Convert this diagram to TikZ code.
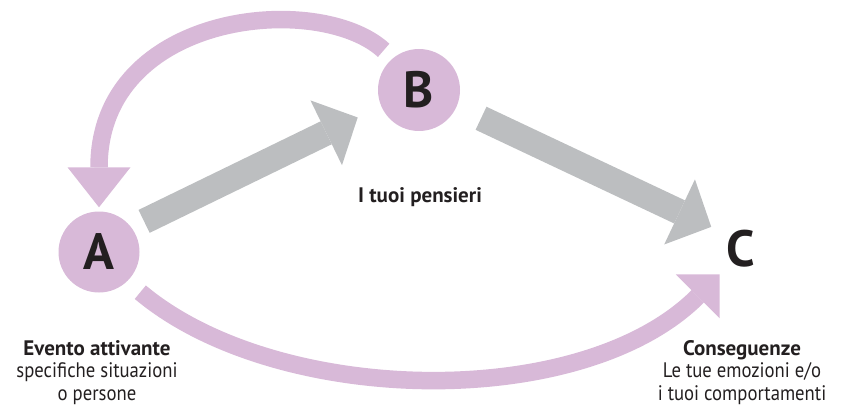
\documentclass[tikz,border=0pt]{standalone}
\usepackage{fontspec}
\setmainfont{PT Sans}[UprightFeatures={FakeStretch=0.89}]
\usetikzlibrary{arrows.meta}

\definecolor{lilac}{HTML}{D8B9D8}
\definecolor{steel}{HTML}{BCBEC0}
\definecolor{ink}{HTML}{231F20}

\tikzset{
  letter/.style={circle,minimum size=81pt,inner sep=0pt,text=ink,
    font=\fontsize{51}{51}\selectfont\bfseries},
  caption/.style={align=center,inner sep=0pt,text=ink,
    font=\fontsize{21}{22.5}\selectfont},
  grey arrow/.style={draw=steel,line width=25.5pt,
    -{Triangle[length=35pt,width=72pt,line width=0pt]}},
  lilac arrow/.style={draw=lilac,line width=17.5pt},
}

\begin{document}
\begin{tikzpicture}[x=1pt,y=-1pt]
    \useasboundingbox (0,0) rectangle (845,406);

    \node[letter,fill=lilac] (a) at (99,252) {A};
    \node[letter,fill=lilac,minimum size=82pt] (b) at (419,90) {B};
    \node[letter,minimum size=66pt] (c) at (741,249) {C};

    % captions sit on the baseline of their last line
    \node[caption,anchor=base] (pensieri) at (420,202) {\bfseries I tuoi pensieri};
    \node[caption,anchor=base] (evento) at (97,400) {\textbf{Evento attivante}\\specifiche situazioni\\o persone};
    \node[caption,anchor=base] (conseguenze) at (742,400) {\textbf{Conseguenze}\\Le tue emozioni e/o\\i tuoi comportamenti};

    % A -> B -> C
    \draw[grey arrow,shorten <=14pt,shorten >=26pt] (a.37) -- (b.203);
    \draw[grey arrow,shorten <=27pt,shorten >=4pt] (b.-24) -- (c.142);

    % B back to A, A straight to C
    \draw[lilac arrow,-{Triangle[length=40pt,width=63pt,line width=0pt]},shorten <=12pt,shorten >=4pt]
        (b.130) to[out=137.5,in=90,out distance=100pt,in distance=200pt] (a.90);
    \draw[lilac arrow,-{Triangle[length=31pt,width=62pt,line width=0pt]},shorten <=17pt]
        (a.-46) to[out=-40,in=225,looseness=0.84] (c.230);
\end{tikzpicture}
\end{document}
